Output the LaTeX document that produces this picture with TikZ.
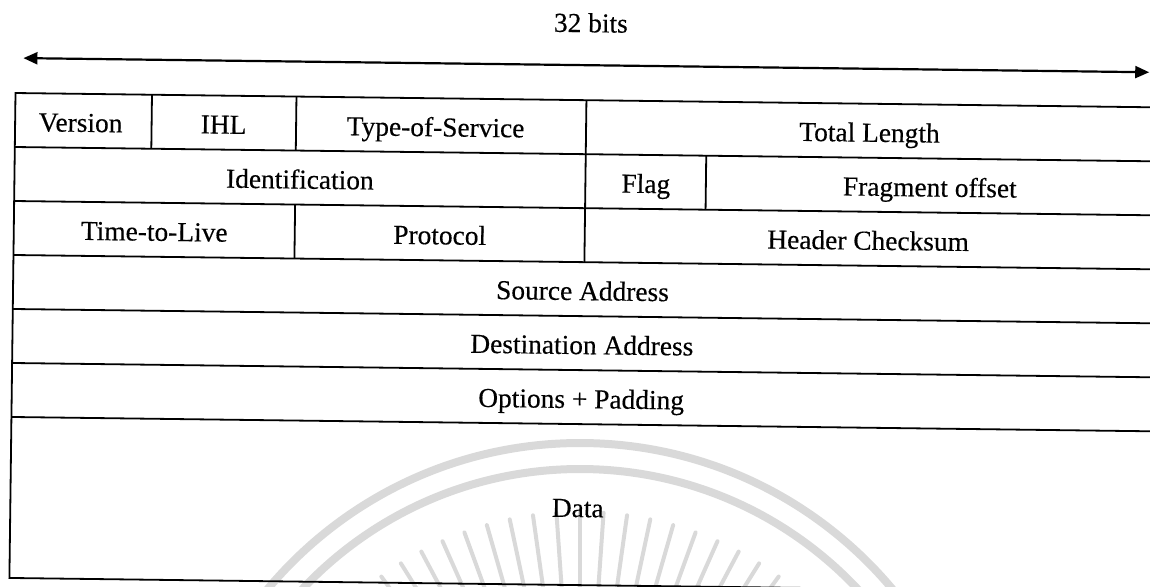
\documentclass[tikz,border=0pt]{standalone}
\usepackage{fontspec}
\setmainfont{Liberation Serif}[BoldFont=Liberation Serif,BoldFeatures={FakeBold=0.35}]
\usetikzlibrary{arrows.meta}
\begin{document}
\begin{tikzpicture}[x=0.5pt,y=-0.5pt,
  rule/.style={line width=0.9pt,black},
  field/.style={font=\fontsize{13.7}{16}\selectfont\bfseries,inner sep=0pt,anchor=base,transform shape},
  wmring/.style={line width=4pt,black!15},
  wmray/.style={line width=2pt,black!15,line cap=round},
  span/.style={line width=1.1pt,{Triangle[length=7pt,width=6pt]}-{Triangle[length=7pt,width=6pt]}}
]
\useasboundingbox (0,0) rectangle (1150,586);
\clip (0,0) rectangle (1150,586);

% faint emblem behind the data field
\draw[wmring] (580,850) circle[radius=203.5pt];
\draw[wmring] (580,850) circle[radius=190.5pt];
\foreach \a in {50,54,...,130}
  \draw[wmray] ({580+338*cos(\a)},{850-338*sin(\a)}) -- ({580+240*cos(\a)},{850-240*sin(\a)});

\begin{scope}[rotate around={-0.72:(15,93)}]
  % width indicator
  \node[field] (bits) at (590,25) {32 bits};
  \coordinate (al) at (23,58);
  \coordinate (ar) at (1149,58);
  \draw[span] (al) -- (ar);

  % header frame and row rules
  \draw[rule] (1170,93) -- (15.5,93) -- (15.5,578) -- (1170,578);
  \foreach \y in {147,201,255,309,363,417}
    \draw[rule] (15.5,\y) -- (1170,\y);

  % field separators
  \draw[rule] (152,93) -- (152,147);
  \draw[rule] (296.5,93) -- (296.5,147);
  \draw[rule] (586.5,93) -- (586.5,255);
  \draw[rule] (707,147) -- (707,201);
  \draw[rule] (296.5,201) -- (296.5,255);

  % field names
  \node[field] (ver)   at (81,131)    {Version};
  \node[field] (ihl)   at (224,131)   {IHL};
  \node[field] (tos)   at (436,131)   {Type-of-Service};
  \node[field] (tlen)  at (870,131)   {Total Length};
  \node[field] (ident) at (301,185)   {Identification};
  \node[field] (flag)  at (647,185)   {Flag};
  \node[field] (frag)  at (931,185)   {Fragment offset};
  \node[field] (ttl)   at (156,239)   {Time-to-Live};
  \node[field] (proto) at (441.5,239) {Protocol};
  \node[field] (hcs)   at (870,239)   {Header Checksum};
  \node[field] (src)   at (585,293)   {Source Address};
  \node[field] (dst)   at (585,347)   {Destination Address};
  \node[field] (opt)   at (585,401)   {Options + Padding};
  \node[field] (data)  at (583,510)   {Data};
\end{scope}
\end{tikzpicture}
\end{document}
